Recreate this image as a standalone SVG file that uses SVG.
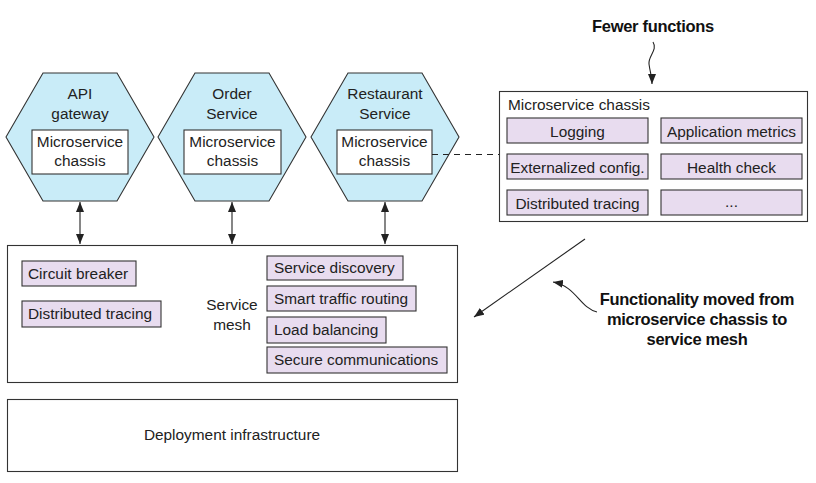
<svg xmlns="http://www.w3.org/2000/svg" width="816" height="483" viewBox="0 0 816 483">
<style>
  text { font-family: "Liberation Sans", Arial, sans-serif; font-size: 15.4px; fill: #222; }
  .c { text-anchor: middle; }
  .b { font-weight: bold; font-size: 16.5px; fill: #111; letter-spacing: -0.3px; }
  .hex { fill: #c9ecf8; stroke: #333; stroke-width: 1.1; }
  .box { fill: #fff; stroke: #333; stroke-width: 1.1; }
  .pill { fill: #e8dcef; stroke: #333; stroke-width: 1.1; }
  .ln { fill: none; stroke: #222; stroke-width: 1.1; }
</style>
<defs>
  <marker id="ah" viewBox="0 0 10 8" refX="10" refY="4" markerWidth="10" markerHeight="8" markerUnits="userSpaceOnUse" orient="auto-start-reverse">
    <path d="M0,0 L10,4 L0,8 Z" fill="#222"/>
  </marker>
</defs>
<rect width="816" height="483" fill="#fff"/>

<g id="api-gateway">
  <polygon class="hex" points="6,137 43,73 117,73 154,137 117,201 43,201"/>
  <text class="c" x="80" y="99">API</text>
  <text class="c" x="80" y="119">gateway</text>
  <rect class="box" x="32" y="130" width="96" height="44"/>
  <text class="c" x="80" y="147">Microservice</text>
  <text class="c" x="80" y="166">chassis</text>
</g>

<g id="order-service">
  <polygon class="hex" points="158,137 195,73 269,73 306,137 269,201 195,201"/>
  <text class="c" x="232" y="99">Order</text>
  <text class="c" x="232" y="119">Service</text>
  <rect class="box" x="184" y="130" width="97" height="44"/>
  <text class="c" x="232.5" y="147">Microservice</text>
  <text class="c" x="232.5" y="166">chassis</text>
</g>

<g id="restaurant-service">
  <polygon class="hex" points="311,137 348,73 422,73 459,137 422,201 348,201"/>
  <text class="c" x="385" y="99">Restaurant</text>
  <text class="c" x="385" y="119">Service</text>
  <rect class="box" x="337" y="130" width="95" height="44"/>
  <text class="c" x="384.5" y="147">Microservice</text>
  <text class="c" x="384.5" y="166">chassis</text>
</g>

<g id="service-mesh">
  <rect class="box" x="7.5" y="245.5" width="450" height="137"/>
  <rect class="pill" x="22" y="261" width="114" height="25"/>
  <text x="28" y="279">Circuit breaker</text>
  <rect class="pill" x="22" y="301" width="139" height="26"/>
  <text x="28" y="319">Distributed tracing</text>
  <text class="c" x="232" y="310">Service</text>
  <text class="c" x="232" y="330">mesh</text>
  <rect class="pill" x="267" y="256" width="136" height="24"/>
  <text x="274" y="273">Service discovery</text>
  <rect class="pill" x="267" y="286" width="149" height="25"/>
  <text x="274" y="304">Smart traffic routing</text>
  <rect class="pill" x="267" y="317" width="119" height="26"/>
  <text x="274" y="335">Load balancing</text>
  <rect class="pill" x="267" y="347" width="180" height="26"/>
  <text x="274" y="365">Secure communications</text>
</g>

<g id="deployment-infrastructure">
  <rect class="box" x="7.5" y="399.5" width="450" height="72"/>
  <text class="c" x="232" y="440">Deployment infrastructure</text>
</g>

<g id="microservice-chassis">
  <rect class="box" x="499.5" y="91.5" width="308" height="130"/>
  <text x="508" y="110">Microservice chassis</text>
  <rect class="pill" x="507" y="118" width="141" height="25"/>
  <text class="c" x="577.5" y="137">Logging</text>
  <rect class="pill" x="661" y="118" width="141" height="25"/>
  <text class="c" x="731.5" y="137">Application metrics</text>
  <rect class="pill" x="507" y="154" width="141" height="25"/>
  <text class="c" x="577.5" y="173">Externalized config.</text>
  <rect class="pill" x="661" y="154" width="141" height="25"/>
  <text class="c" x="731.5" y="173">Health check</text>
  <rect class="pill" x="507" y="190" width="141" height="25"/>
  <text class="c" x="577.5" y="209">Distributed tracing</text>
  <rect class="pill" x="661" y="190" width="141" height="25"/>
  <text class="c" x="731.5" y="207">...</text>
</g>

<g id="annotations">
  <text class="c b" x="653" y="32">Fewer functions</text>
  <text class="c b" x="697" y="305">Functionality moved from</text>
  <text class="c b" x="697" y="325">microservice chassis to</text>
  <text class="c b" x="697" y="345">service mesh</text>
</g>

<g id="connectors">
  <line class="ln" x1="80" y1="202" x2="80" y2="244" marker-start="url(#ah)" marker-end="url(#ah)"/>
  <line class="ln" x1="232" y1="202" x2="232" y2="244" marker-start="url(#ah)" marker-end="url(#ah)"/>
  <line class="ln" x1="385" y1="202" x2="385" y2="244" marker-start="url(#ah)" marker-end="url(#ah)"/>
  <line class="ln" x1="432" y1="154.5" x2="499" y2="154.5" stroke-dasharray="6,5"/>
  <path class="ln" d="M653,42 C658,50 648,56 649,64 C650,72 652,76 652,84" marker-end="url(#ah)"/>
  <line class="ln" x1="585" y1="239" x2="474" y2="317" marker-end="url(#ah)"/>
  <path class="ln" d="M597,312 C580,308 576,286 553,282" marker-end="url(#ah)"/>
</g>
</svg>
